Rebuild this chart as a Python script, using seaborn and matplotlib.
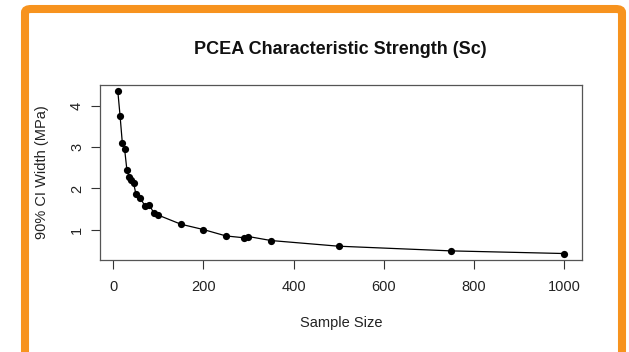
import matplotlib
matplotlib.use("Agg")
import matplotlib.pyplot as plt
from matplotlib.patches import FancyBboxPatch
import seaborn as sns
import pandas as pd

sample_size = [10, 15, 20, 25, 30, 35, 40, 45, 50, 60, 70, 80, 90, 100,
               150, 200, 250, 290, 300, 350, 500, 750, 1000]
ci_width = [4.36, 3.76, 3.10, 2.96, 2.46, 2.29, 2.21, 2.13, 1.87, 1.76,
            1.58, 1.60, 1.40, 1.35, 1.13, 1.00, 0.845, 0.80, 0.83, 0.733,
            0.595, 0.481, 0.417]
x_ticks = [0, 200, 400, 600, 800, 1000]
y_ticks = [1, 2, 3, 4]

df = pd.DataFrame({"Sample Size": sample_size, "CI Width": ci_width})

sns.set_style("white")
plt.rcParams["font.family"] = ["Liberation Sans", "DejaVu Sans"]

W, H = 629, 352
fig = plt.figure(figsize=(W / 100, H / 100), dpi=100)
ax = fig.add_axes([100 / W, 1 - 260 / H, (581.7 - 100) / W, (260 - 85) / H])

sns.lineplot(data=df, x="Sample Size", y="CI Width", ax=ax, color="black",
             linewidth=0.9, marker="o", markersize=5.2, markeredgewidth=0,
             markerfacecolor="black")

xmin, xmax = min(sample_size), max(sample_size)
ymin, ymax = min(ci_width), max(ci_width)
ax.set_xlim(xmin - 0.04 * (xmax - xmin), xmax + 0.04 * (xmax - xmin))
ax.set_ylim(ymin - 0.04 * (ymax - ymin), ymax + 0.04 * (ymax - ymin))

txt = "#222222"
ax.set_xticks(x_ticks)
ax.set_yticks(y_ticks)
ax.set_xticklabels([str(v) for v in x_ticks], fontsize=10.5, color=txt)
ax.set_yticklabels([str(v) for v in y_ticks], fontsize=10.5, color=txt,
                   rotation=90, va="center")
ax.tick_params(axis="both", direction="out", length=6.5, width=0.8,
               color="#333333", bottom=True, left=True)
ax.tick_params(axis="x", pad=8)
ax.tick_params(axis="y", pad=5)
for s in ax.spines.values():
    s.set_color("#555555")
    s.set_linewidth(0.9)

ax.set_xlabel("Sample Size", fontsize=10.5, color=txt, labelpad=16)
ax.set_ylabel("90% CI Width (MPa)", fontsize=10.5, color=txt, labelpad=15)
fig.text(340 / W, 1 - 49 / H, "PCEA Characteristic Strength (Sc)",
         ha="center", va="center", fontsize=13, fontweight="bold", color="#111111")

# orange rounded frame around the figure
frame = FancyBboxPatch((25 / W, -10 / H), (622 - 25) / W, (H - 9 + 10) / H,
                       boxstyle="round,pad=0,rounding_size=0.01",
                       transform=fig.transFigure, fill=False,
                       edgecolor="#F7931E", linewidth=5.8, clip_on=False)
fig.patches.append(frame)

fig.savefig("out.png", dpi=100, facecolor="white")
